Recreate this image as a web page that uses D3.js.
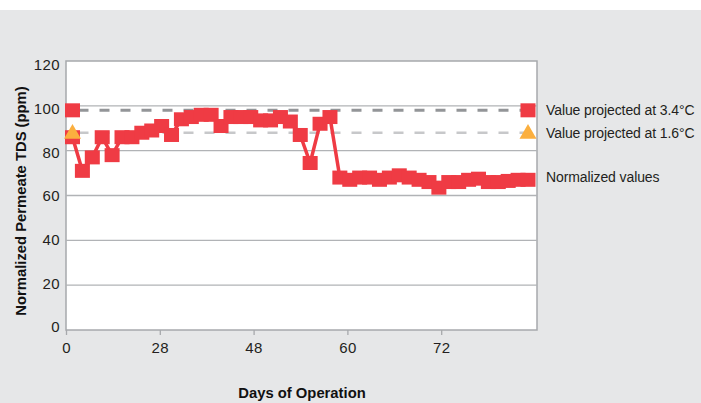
<!DOCTYPE html>
<html>
<head>
<meta charset="utf-8">
<script src="https://cdn.jsdelivr.net/npm/d3@7"></script>
<style>
    body { margin: 0; background: #fff; }
    svg { display: block; font-family: "Liberation Sans", Arial, sans-serif; }
</style>
</head>
<body>
<svg id="chart" width="701" height="403"></svg>
<script>
/*Нормализованные значения TDS по порядку измерений*/
const normalized = [86, 71, 77, 86, 78, 86, 86, 88, 89, 91, 87, 94, 95, 96, 96, 91, 95, 95, 95, 93.5,
    93.5, 95, 93, 87, 74.5, 92, 95, 68, 67, 68, 68, 67, 68, 69, 68, 67, 66, 63.5, 66, 66,
    67, 67.5, 66, 66, 66.5, 67, 67];
/*Проекции при разной температуре (начало и конец периода)*/
const projected34 = [98, 98];
const projected16 = [88, 88];
const seriesNames = ["Value projected at 3.4°C", "Value projected at 1.6°C", "Normalized values"];
const xTickLabels = ["0", "28", "48", "60", "72"];
const yTicks = [0, 20, 40, 60, 80, 100, 120];

const width = 701, height = 403;
const plot = { left: 66, top: 61, right: 537, bottom: 330 };
const red = "#ef3b44", orange = "#fbaf3f";

let svg = d3.select("#chart");

svg.append("rect")
    .attr("x", 0).attr("y", 10)
    .attr("width", width).attr("height", height - 10)
    .attr("fill", "#e6e7e8");

let y = d3.scaleLinear().domain([0, 120]).range([plot.bottom, plot.top]);
/*подписи оси Y стоят чуть иначе чем линии сетки*/
let yLabel = d3.scaleLinear().domain([0, 120]).range([327, 65]);
let xTick = d3.scaleLinear().domain([0, 5]).range([plot.left, 535]);
let x = d3.scaleLinear().domain([0, normalized.length - 1]).range([72.5, 528]);

svg.append("rect")
    .attr("x", plot.left).attr("y", plot.top)
    .attr("width", plot.right - plot.left).attr("height", plot.bottom - plot.top)
    .attr("fill", "#fff")
    .attr("stroke", "#a7a9ac")
    .attr("stroke-width", 1.5);

svg.append("g")
    .selectAll("line")
    .data(yTicks.filter(d => d > 0 && d < 120))
    .enter().append("line")
        .attr("x1", plot.left).attr("x2", plot.right)
        .attr("y1", d => y(d)).attr("y2", d => y(d))
        .attr("stroke", "#b1b3b6")
        .attr("stroke-width", 1.3);

// оси
let yAxis = svg.append("g")
    .attr("transform", "translate(60,0)")
    .call(d3.axisLeft(yLabel).tickValues(yTicks).tickSize(0).tickPadding(0));
yAxis.select(".domain").remove();
yAxis.selectAll("text")
    .attr("font-size", 15)
    .attr("font-family", "Liberation Sans, Arial, sans-serif")
    .attr("letter-spacing", 0.4)
    .attr("fill", "#231f20");

let xAxis = svg.append("g")
    .attr("transform", "translate(0," + plot.bottom + ")")
    .call(d3.axisBottom(xTick)
        .tickValues(d3.range(xTickLabels.length))
        .tickFormat(i => xTickLabels[i])
        .tickSize(5).tickPadding(7));
xAxis.select(".domain").remove();
xAxis.selectAll("line").attr("stroke", "#a7a9ac").attr("stroke-width", 1.3);
xAxis.selectAll("text")
    .attr("font-size", 15)
    .attr("font-family", "Liberation Sans, Arial, sans-serif")
    .attr("letter-spacing", 0.4)
    .attr("fill", "#231f20");

svg.append("text")
    .attr("transform", "translate(26,201) rotate(-90)")
    .attr("text-anchor", "middle")
    .attr("font-size", 14.8)
    .attr("font-weight", "bold")
    .attr("fill", "#111")
    .text("Normalized Permeate TDS (ppm)");

svg.append("text")
    .attr("x", 302).attr("y", 398)
    .attr("text-anchor", "middle")
    .attr("font-size", 14.8)
    .attr("font-weight", "bold")
    .attr("fill", "#111")
    .text("Days of Operation");

// пунктирные линии проекций
let lastIdx = normalized.length - 1;
let projLine = d3.line()
    .x((d, i) => x(i * lastIdx))
    .y(d => y(d));

svg.append("path")
    .datum(projected34)
    .attr("d", projLine)
    .attr("fill", "none")
    .attr("stroke", "#939598")
    .attr("stroke-width", 3)
    .attr("stroke-dasharray", "10,11")
    .attr("stroke-dashoffset", -6);

svg.append("path")
    .datum(projected16)
    .attr("d", projLine)
    .attr("fill", "none")
    .attr("stroke", "#c7c8ca")
    .attr("stroke-width", 2.5)
    .attr("stroke-dasharray", "10,11")
    .attr("stroke-dashoffset", -6);

// нормализованные значения
svg.append("path")
    .datum(normalized)
    .attr("d", d3.line().x((d, i) => x(i)).y(d => y(d)))
    .attr("fill", "none")
    .attr("stroke", red)
    .attr("stroke-width", 3.5);

svg.append("g")
    .selectAll("rect")
    .data(normalized)
    .enter().append("rect")
        .attr("x", (d, i) => x(i) - 7.5)
        .attr("y", d => y(d) - 7)
        .attr("width", 15)
        .attr("height", 14)
        .attr("fill", red);

// маркеры проекций на концах
svg.append("g")
    .selectAll("rect")
    .data(projected34)
    .enter().append("rect")
        .attr("x", (d, i) => x(i * lastIdx) - 7.5)
        .attr("y", d => y(d) - 7)
        .attr("width", 15)
        .attr("height", 14)
        .attr("fill", red);

svg.append("g")
    .selectAll("path")
    .data(projected16)
    .enter().append("path")
        .attr("d", d3.symbol(d3.symbolTriangle).size(125))
        .attr("transform", (d, i) => "translate(" + x(i * lastIdx) + "," + (y(d) + 1) + ")")
        .attr("fill", orange);

// подписи серий справа
let endValues = [projected34[1], projected16[1], normalized[lastIdx] + 1.2];
svg.append("g")
    .selectAll("text")
    .data(seriesNames)
    .enter().append("text")
        .attr("x", 546)
        .attr("y", (d, i) => y(endValues[i]))
        .attr("dy", "0.35em")
        .attr("font-size", 14)
        .attr("letter-spacing", -0.1)
        .attr("fill", "#231f20")
        .text(d => d);
</script>
</body>
</html>
